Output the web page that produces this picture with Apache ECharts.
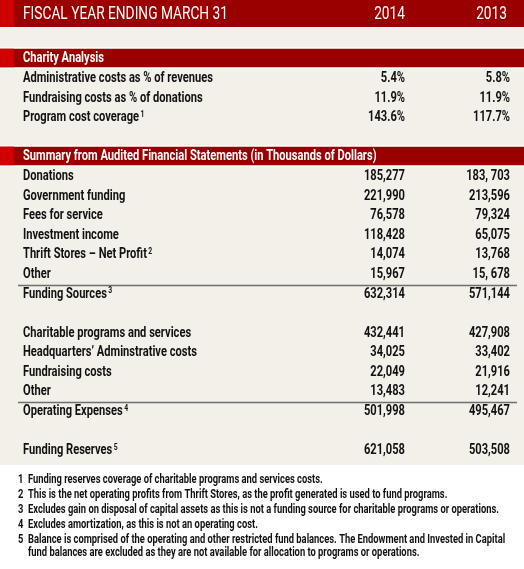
<!DOCTYPE html>
<html><head><meta charset="utf-8">
<script src="https://cdn.jsdelivr.net/npm/echarts@6/dist/echarts.min.js"></script>
<style>html,body{margin:0;padding:0;background:#fff}#c{width:524px;height:569px}</style>
</head><body><div id="c"></div>
<script>
// ---------------- data ----------------
const headerTitle = 'FISCAL YEAR ENDING MARCH 31';
const years = ['2014', '2013'];

const charityTitle = 'Charity Analysis';
const charityLabels = ['Administrative costs as % of revenues', 'Fundraising costs as % of donations', 'Program cost coverage'];
const charityNotes = [null, null, 1];
const charity2014 = ['5.4%', '11.9%', '143.6%'];
const charity2013 = ['5.8%', '11.9%', '117.7%'];

const summaryTitle = 'Summary from Audited Financial Statements (in Thousands of Dollars)';
const fundingLabels = ['Donations', 'Government funding', 'Fees for service', 'Investment income', 'Thrift Stores – Net Profit', 'Other'];
const fundingNotes = [null, null, null, null, 2, null];
const funding2014 = ['185,277', '221,990', '76,578', '118,428', '14,074', '15,967'];
const funding2013 = ['183, 703', '213,596', '79,324', '65,075', '13,768', '15, 678'];
const fundingTotal = ['Funding Sources', 3, '632,314', '571,144'];

const expenseLabels = ['Charitable programs and services', 'Headquarters’ Adminstrative costs', 'Fundraising costs', 'Other'];
const expense2014 = ['432,441', '34,025', '22,049', '13,483'];
const expense2013 = ['427,908', '33,402', '21,916', '12,241'];
const expenseTotal = ['Operating Expenses', 4, '501,998', '495,467'];

const reservesRow = ['Funding Reserves', 5, '621,058', '503,508'];

const footnoteNums = ['1', '2', '3', '4', '5'];
const footnotes = [
  'Funding reserves coverage of charitable programs and services costs.',
  'This is the net operating profits from Thrift Stores, as the profit generated is used to fund programs.',
  'Excludes gain on disposal of capital assets as this is not a funding source for charitable programs or operations.',
  'Excludes amortization, as this is not an operating cost.',
  'Balance is comprised of the operating and other restricted fund balances. The Endowment and Invested in Capital\nfund balances are excluded as they are not available for allocation to programs or operations.'
];

// ---------------- styles / layout ----------------
const RED = '#9b0000', ACCENT = '#cf0000', BEIGE = '#f3f0ea', INK = '#111111';
const FONT = 'Roboto';
const W = 524, ROW = 19.58;
const COL_LABEL = 23, COL_A = 405, COL_B = 510;

const ctx = document.createElement('canvas').getContext('2d');
function measure(t, size, weight) { ctx.font = weight + ' ' + size + 'px ' + FONT; return ctx.measureText(t).width; }
const BODY_SIZE = 15.5, HEAD_SIZE = 19, FOOT_SIZE = 12.3;
const bodyScale = 190 / measure(charityLabels[0], BODY_SIZE, 'bold');
const headScale = 205 / measure(headerTitle, HEAD_SIZE, 'normal');
const footScale = 471 / measure(footnotes[2], FOOT_SIZE, 'bold');

// ---------------- build rows ----------------
const rows = [];
let slot = 3;
function section(t) { rows.push({ slot: slot++, kind: 'section', label: t }); }
function addRows(labels, notes, a, b) {
  labels.forEach((l, i) => rows.push({ slot: slot++, kind: 'row', label: l, note: notes ? notes[i] : null, a: a[i], b: b[i] }));
}
function total(t, line) { rows.push({ slot: slot++, kind: 'row', line: line, label: t[0], note: t[1], a: t[2], b: t[3] }); }
section(charityTitle);
addRows(charityLabels, charityNotes, charity2014, charity2013);
slot++;
section(summaryTitle);
addRows(fundingLabels, fundingNotes, funding2014, funding2013);
total(fundingTotal, true);
slot++;
addRows(expenseLabels, null, expense2014, expense2013);
total(expenseTotal, true);
slot++;
total(reservesRow, false);

function txt(text, x, y, align, fill, scale) {
  return {
    type: 'text', x: x, y: y, scaleX: scale || bodyScale,
    style: { text: text, x: 0, y: 0, align: align, verticalAlign: 'middle', fill: fill || INK,
      fontSize: BODY_SIZE, fontWeight: 'bold', fontFamily: FONT,
      rich: { s: { fontSize: 9.5, fontWeight: 'bold', fontFamily: FONT, fill: fill || INK, verticalAlign: 'top', padding: [0, 0, 0, 2] } } }
  };
}

function renderItem(params, api) {
  const r = rows[api.value(2)];
  const s = api.value(1);
  const y = api.coord([0, s])[1];
  const X = v => api.coord([v, s])[0];
  const ch = [];
  const label = r.note ? r.label + '{s|' + r.note + '}' : r.label;
  if (r.kind === 'section') {
    ch.push({ type: 'rect', shape: { x: X(0), y: y - 11.5, width: X(W) - X(0), height: 21.5 }, style: { fill: '#fff' } });
    ch.push({ type: 'rect', shape: { x: X(0), y: y - 10, width: X(W) - X(0), height: 18.5 }, style: { fill: RED } });
    ch.push({ type: 'rect', shape: { x: X(0), y: y - 10, width: X(14) - X(0), height: 18.5 }, style: { fill: ACCENT } });
    ch.push(txt(label, X(COL_LABEL), y - 1, 'left', '#fff'));
  } else {
    if (r.line) {
      const ly = Math.round(y - 9) + 0.5;
      ch.push({ type: 'line', shape: { x1: X(18), y1: ly, x2: X(517), y2: ly }, style: { stroke: '#6e6e6e', lineWidth: 1.4 } });
    }
    ch.push(txt(label, X(COL_LABEL), y, 'left'));
    ch.push(txt(r.a, X(COL_A), y, 'right'));
    ch.push(txt(r.b, X(COL_B), y, 'right'));
  }
  return { type: 'group', children: ch };
}

// footnotes (text block)
const footGraphics = [];
let fy = 479.5;
footnotes.forEach((f, i) => {
  footGraphics.push({ type: 'text', x: 18, y: fy, scaleX: footScale,
    style: { text: footnoteNums[i], fill: INK, fontSize: FOOT_SIZE, fontWeight: 'bold', fontFamily: FONT, verticalAlign: 'middle' } });
  footGraphics.push({ type: 'text', x: 28, y: fy - 6.25, scaleX: footScale,
    style: { text: f, fill: INK, fontSize: FOOT_SIZE, fontWeight: 'bold', fontFamily: FONT, lineHeight: 12.5, verticalAlign: 'top' } });
  fy += 15.2;
});

const chart = echarts.init(document.getElementById('c'), null, { renderer: 'canvas' });
chart.setOption({
  animation: false,
  backgroundColor: '#fff',
  grid: { left: 0, right: 0, top: 0, bottom: 0 },
  xAxis: { type: 'value', min: 0, max: W, show: false },
  yAxis: { type: 'value', min: 0, max: 569 / ROW, inverse: true, show: false },
  graphic: [
    { type: 'rect', shape: { x: 0, y: 28, width: W, height: 437 }, style: { fill: BEIGE }, z: -10 },
    { type: 'rect', shape: { x: 0, y: 0, width: W, height: 27 }, style: { fill: RED }, z: -10 },
    { type: 'rect', shape: { x: 0, y: 0, width: 14, height: 27 }, style: { fill: ACCENT }, z: -10 },
    { type: 'text', x: COL_LABEL, y: 14, scaleX: headScale, style: { text: headerTitle, fill: '#fff', fontSize: HEAD_SIZE, fontFamily: FONT, verticalAlign: 'middle' } },
    { type: 'text', x: COL_A, y: 14, scaleX: headScale, style: { text: years[0], fill: '#fff', fontSize: HEAD_SIZE, fontFamily: FONT, align: 'right', verticalAlign: 'middle' } },
    { type: 'text', x: 507, y: 14, scaleX: headScale, style: { text: years[1], fill: '#fff', fontSize: HEAD_SIZE, fontFamily: FONT, align: 'right', verticalAlign: 'middle' } }
  ].concat(footGraphics),
  series: [{
    type: 'custom',
    coordinateSystem: 'cartesian2d',
    renderItem: renderItem,
    encode: { x: 0, y: 1 },
    data: rows.map((r, i) => [0, r.slot, i]),
    silent: true
  }]
});
</script></body></html>
